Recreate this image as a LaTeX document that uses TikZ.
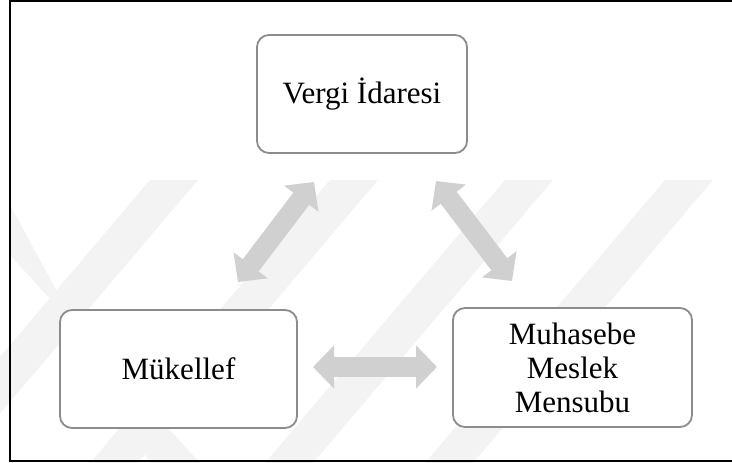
\documentclass[tikz,border=0pt]{standalone}
\usepackage{fontspec}
\setmainfont{Liberation Serif}
\usetikzlibrary{arrows.meta}
\definecolor{boxline}{HTML}{8C8C8C}
\definecolor{arrowfill}{HTML}{D0D0D0}
\definecolor{wmark}{HTML}{F3F3F3}
\tikzset{
  box/.style={draw=boxline, line width=1.8pt, rounded corners=12pt, fill=white,
    align=center, font=\fontsize{31}{34}\selectfont, inner sep=2pt},
  dblarrow/.style={draw=arrowfill, line width=20pt,
    {Triangle[width=42pt 0, length=21pt 0]}-{Triangle[width=42pt 0, length=21pt 0]}},
  band/.style={fill=wmark, draw=none},
  frame/.style={draw=black, line width=2pt}
}
\begin{document}
\begin{tikzpicture}[x=1pt, y=-1pt]
\useasboundingbox (0,0) rectangle (732,463);
\fill[white] (0,0) rectangle (732,463);
% faint watermark bands
\foreach \t in {150,330,505,665}{
  \fill[band] (\t,180) -- (\t+48,180) -- (\t+48-240,463) -- (\t-240,463) -- cycle;
}
\fill[band] (10,205) -- (10,255) -- (200,463) -- (150,463) -- cycle;
% frame
\draw[frame] (732,1) -- (9.5,1) -- (9.5,461) -- (732,461);
% nodes
\node[box, minimum width=210pt, minimum height=118pt] (vergi) at (362,94) {Vergi İdaresi};
\node[box, minimum width=237pt, minimum height=118pt] (mukellef) at (178.5,369) {Mükellef};
\node[box, minimum width=239pt, minimum height=119pt] (muhasebe) at (572.5,367.5) {Muhasebe\\Meslek\\Mensubu};
% arrow ends
\coordinate (vl) at (314,182);
\coordinate (ml) at (238,282);
\coordinate (vr) at (436,181);
\coordinate (mr) at (512,281);
\coordinate (hl) at (313,367);
\coordinate (hr) at (437,367);
\draw[dblarrow] (vl) -- (ml);
\draw[dblarrow] (vr) -- (mr);
\draw[dblarrow] (hl) -- (hr);
\end{tikzpicture}
\end{document}
